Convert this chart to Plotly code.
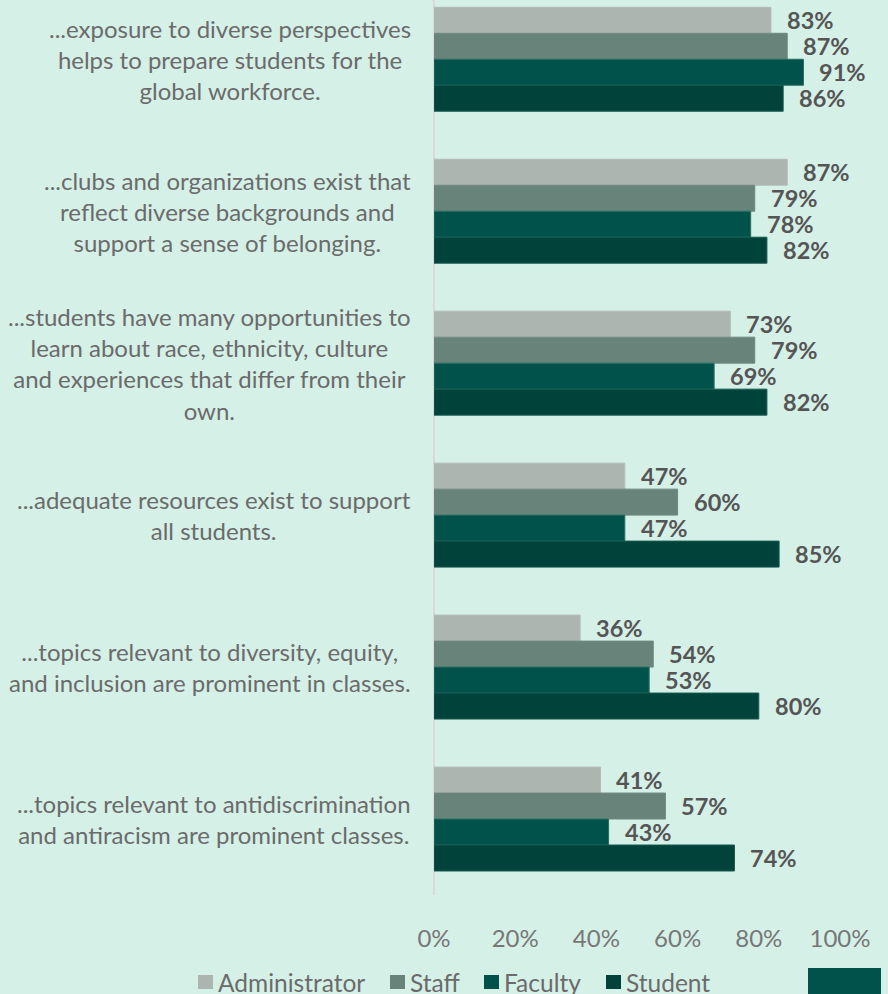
import plotly.graph_objects as go

categories = [
    "...exposure to diverse perspectives<br>helps to prepare students for the<br>global workforce.",
    "...clubs and organizations exist that<br>reflect diverse backgrounds and<br>support a sense of belonging.",
    "...students have many opportunities to<br>learn about race, ethnicity, culture<br>and experiences that differ from their<br>own.",
    "...adequate resources exist to support<br>all students.",
    "...topics relevant to diversity, equity,<br>and inclusion are prominent in classes.",
    "...topics relevant to antidiscrimination<br>and antiracism are prominent classes.",
]

series_names = ["Administrator", "Staff", "Faculty", "Student"]
administrator = [0.83, 0.87, 0.73, 0.47, 0.36, 0.41]
staff = [0.87, 0.79, 0.79, 0.60, 0.54, 0.57]
faculty = [0.91, 0.78, 0.69, 0.47, 0.53, 0.43]
student = [0.86, 0.82, 0.82, 0.85, 0.80, 0.74]

x_ticks = [0, 0.2, 0.4, 0.6, 0.8, 1.0]
x_tick_labels = ["0%", "20%", "40%", "60%", "80%", "100%"]

colors = ["#adb5b1", "#68837a", "#00524a", "#01433b"]
line_colors = ["#b4bcb8", "#6f8a81", "#2a6e63", "#155a50"]
bg = "#d5f0e7"
font_family = "Lato, 'Open Sans', sans-serif"

W, H = 888, 994
ML, MR, MT, MB = 434, 48, 0, 99
plot_w = W - ML - MR
plot_h = H - MT - MB


def px_x(px):
    """Pixel column -> paper x."""
    return (px - ML) / plot_w


def px_y(py):
    """Pixel row (from top) -> paper y."""
    return (H - MB - py) / plot_h


fig = go.Figure()
all_series = [administrator, staff, faculty, student]
for name, vals, c, lc in zip(series_names, all_series, colors, line_colors):
    fig.add_trace(go.Bar(
        y=categories, x=vals, name=name, orientation="h",
        marker=dict(color=c, line=dict(color=lc, width=1)),
        showlegend=False, hoverinfo="skip",
    ))

annotations = []
shapes = []

# value labels to the right of each bar
for si, vals in enumerate(all_series):
    for ci, v in enumerate(vals):
        annotations.append(dict(
            x=v, y=ci, xref="x", yref="y",
            yshift=(1.5 - si) * 26,
            xshift=14, xanchor="left", yanchor="middle",
            text=f"<b>{round(v * 100)}%</b>", showarrow=False,
            font=dict(family=font_family, size=23.5, color="#555555"),
        ))

# category labels, centred text blocks right-aligned against the axis
for ci, cat in enumerate(categories):
    annotations.append(dict(
        x=px_x(413), y=ci, xref="paper", yref="y",
        xanchor="right", yanchor="middle", align="center",
        text=cat, showarrow=False,
        font=dict(family=font_family, size=24, color="#6b6b6b"),
    ))

# legend row: colour swatch + series name
legend_x = [198, 390, 484, 606]
for name, c, px in zip(series_names, colors, legend_x):
    shapes.append(dict(
        type="rect", xref="paper", yref="paper",
        x0=px_x(px), x1=px_x(px + 15), y0=px_y(989), y1=px_y(975),
        fillcolor=c, line=dict(width=0),
    ))
    annotations.append(dict(
        x=px_x(px + 18), y=px_y(982), xref="paper", yref="paper",
        xanchor="left", yanchor="middle",
        text=name, showarrow=False,
        font=dict(family=font_family, size=24.5, color="#6b6b6b"),
    ))

# solid block at the bottom-right corner
shapes.append(dict(
    type="rect", xref="paper", yref="paper",
    x0=px_x(808), x1=px_x(881), y0=px_y(996), y1=px_y(968),
    fillcolor="#00524a", line=dict(width=0), layer="above",
))

fig.update_layout(
    width=W, height=H,
    margin=dict(l=ML, r=MR, t=MT, b=MB, pad=0),
    paper_bgcolor=bg, plot_bgcolor=bg,
    barmode="group", bargap=0.316, bargroupgap=0,
    annotations=annotations, shapes=shapes,
    font=dict(family=font_family),
)

fig.update_xaxes(
    range=[0, 1], tickvals=x_ticks, ticktext=x_tick_labels,
    showgrid=False, zeroline=True, zerolinecolor="#d9d9d9", zerolinewidth=2,
    ticks="outside", ticklen=22, tickcolor="rgba(0,0,0,0)",
    tickfont=dict(family=font_family, size=24, color="#777777"),
    fixedrange=True,
)
fig.update_yaxes(
    autorange=False, range=[5.5, -0.39],
    showticklabels=False, showgrid=False, zeroline=False, ticks="",
    fixedrange=True,
)

fig.write_html("out.html")
